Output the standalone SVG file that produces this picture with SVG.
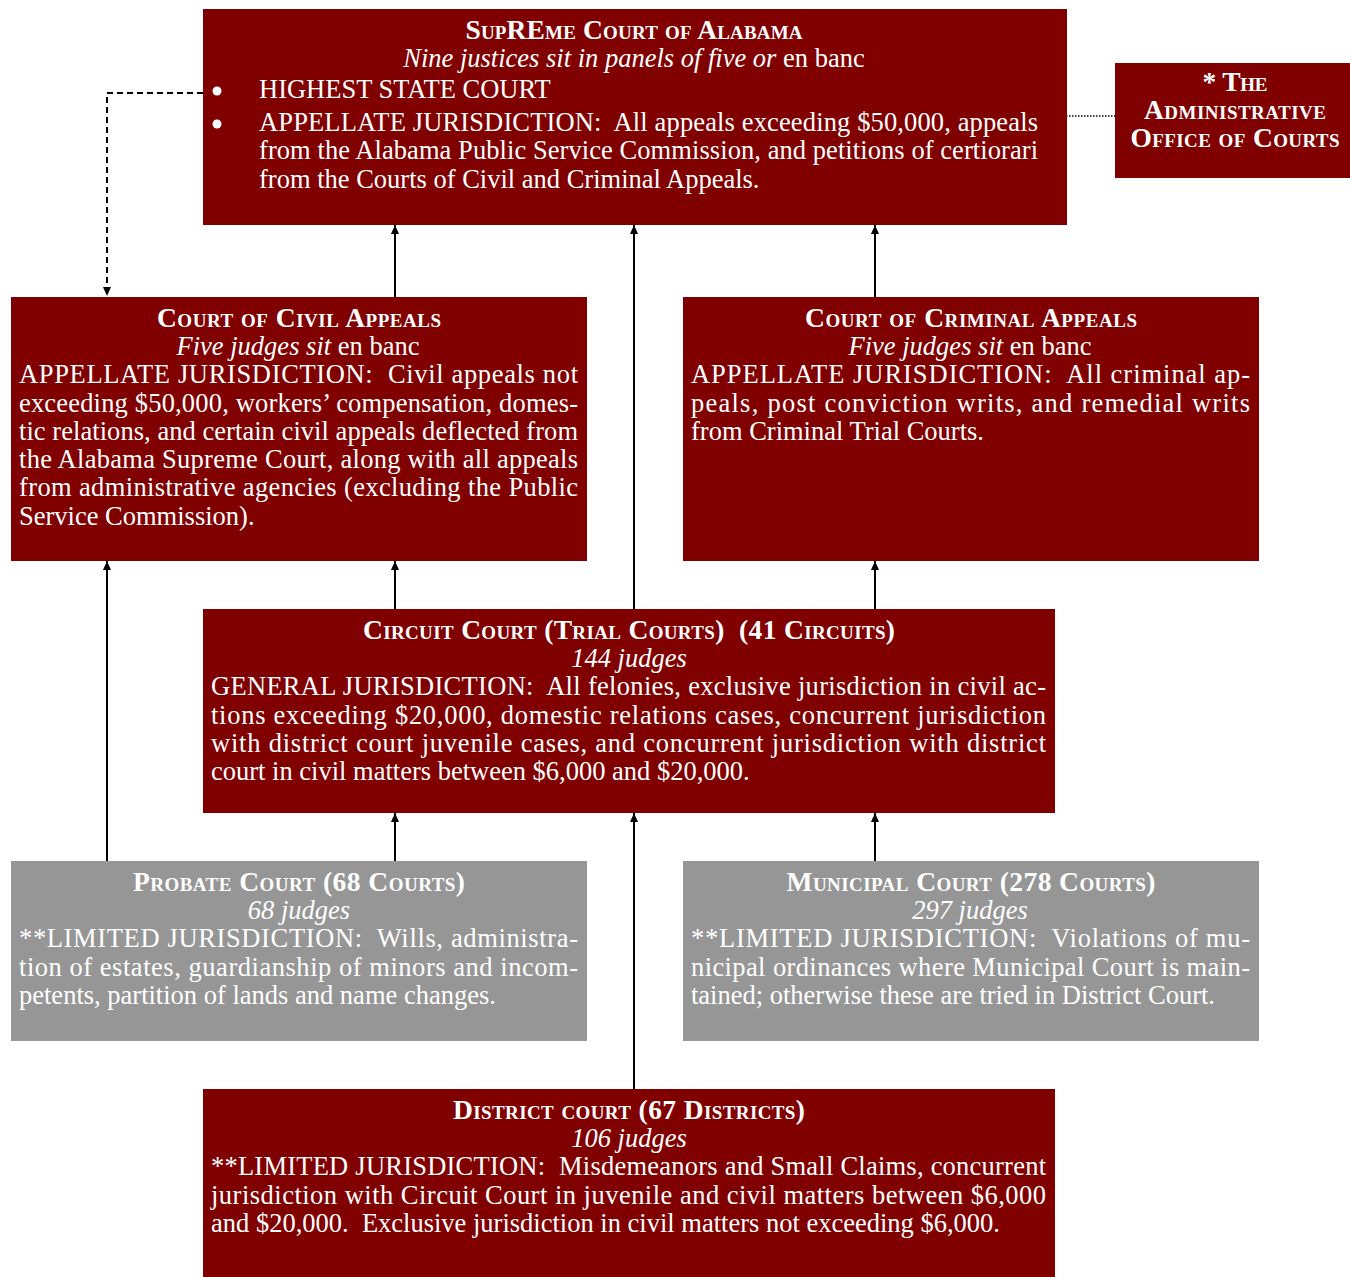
<svg xmlns="http://www.w3.org/2000/svg" width="1350" height="1277" viewBox="0 0 1350 1277">
<defs>
<style>
.red{fill:#800000}
.gray{fill:#969696}
text{font-family:"Liberation Serif","Times New Roman",serif;fill:#ffffff;font-size:26.5px;white-space:pre}
.t{font-weight:bold;font-variant:small-caps;text-anchor:middle;font-size:27.5px}
.s{font-style:italic;text-anchor:middle}
.u{font-style:normal}
.ln{stroke:#000;stroke-width:2;fill:none}
.dash{stroke:#000;stroke-width:2;fill:none;stroke-dasharray:6,4}
.dot{stroke:#000;stroke-width:1.5;fill:none;stroke-dasharray:1.5,1.5}
</style>
<marker id="ah" markerUnits="userSpaceOnUse" markerWidth="10" markerHeight="10" refX="9" refY="4" orient="auto">
<path d="M0,0 L9,4 L0,8 z" fill="#000"/>
</marker>
</defs>
<rect width="1350" height="1277" fill="#fff"/>

<g id="connectors">
<line class="ln" x1="395" y1="297" x2="395" y2="225" marker-end="url(#ah)"/>
<line class="ln" x1="634" y1="609" x2="634" y2="225" marker-end="url(#ah)"/>
<line class="ln" x1="875" y1="297" x2="875" y2="225" marker-end="url(#ah)"/>
<line class="ln" x1="395" y1="609" x2="395" y2="561" marker-end="url(#ah)"/>
<line class="ln" x1="875" y1="609" x2="875" y2="561" marker-end="url(#ah)"/>
<line class="ln" x1="107" y1="861" x2="107" y2="561" marker-end="url(#ah)"/>
<line class="ln" x1="395" y1="861" x2="395" y2="813" marker-end="url(#ah)"/>
<line class="ln" x1="634" y1="1089" x2="634" y2="813" marker-end="url(#ah)"/>
<line class="ln" x1="875" y1="861" x2="875" y2="813" marker-end="url(#ah)"/>
<path class="dash" d="M203,93 H107 V296" marker-end="url(#ah)"/>
<line class="dot" x1="1066" y1="116" x2="1115" y2="116"/>
</g>

<g id="supreme">
<rect class="red" x="203" y="9" width="864" height="216"/>
<text class="t" x="634" y="39" textLength="337" lengthAdjust="spacing">SupREme Court of Alabama</text>
<text class="s" x="634" y="67">Nine justices sit in panels of five or <tspan class="u">en banc</tspan></text>
<circle cx="217" cy="91" r="4.5" fill="#fff"/>
<circle cx="217" cy="124" r="4.5" fill="#fff"/>
<text x="259" y="98">HIGHEST STATE COURT</text>
<text x="259" y="131" textLength="779" lengthAdjust="spacing">APPELLATE JURISDICTION:  All appeals exceeding $50,000, appeals</text>
<text x="259" y="159" textLength="779" lengthAdjust="spacing">from the Alabama Public Service Commission, and petitions of certiorari</text>
<text x="259" y="188">from the Courts of Civil and Criminal Appeals.</text>
</g>

<g id="admin">
<rect class="red" x="1115" y="63" width="235" height="115"/>
<text class="t" x="1235" y="91" textLength="65" lengthAdjust="spacing">* The</text>
<text class="t" x="1235" y="119" textLength="182" lengthAdjust="spacing">Administrative</text>
<text class="t" x="1235" y="147" textLength="209" lengthAdjust="spacing">Office of Courts</text>
</g>

<g id="civil">
<rect class="red" x="11" y="297" width="576" height="264"/>
<text class="t" x="299" y="327" textLength="284" lengthAdjust="spacing">Court of Civil Appeals</text>
<text class="s" x="298" y="355">Five judges sit <tspan class="u">en banc</tspan></text>
<text x="19" y="383" textLength="559" lengthAdjust="spacing">APPELLATE JURISDICTION:  Civil appeals not</text>
<text x="19" y="412" textLength="559" lengthAdjust="spacing">exceeding $50,000, workers’ compensation, domes-</text>
<text x="19" y="440" textLength="559" lengthAdjust="spacing">tic relations, and certain civil appeals deflected from</text>
<text x="19" y="468" textLength="559" lengthAdjust="spacing">the Alabama Supreme Court, along with all appeals</text>
<text x="19" y="496" textLength="559" lengthAdjust="spacing">from administrative agencies (excluding the Public</text>
<text x="19" y="525">Service Commission).</text>
</g>

<g id="criminal">
<rect class="red" x="683" y="297" width="576" height="264"/>
<text class="t" x="971" y="327" textLength="332" lengthAdjust="spacing">Court of Criminal Appeals</text>
<text class="s" x="970" y="355">Five judges sit <tspan class="u">en banc</tspan></text>
<text x="691" y="383" textLength="559" lengthAdjust="spacing">APPELLATE JURISDICTION:  All criminal ap-</text>
<text x="691" y="412" textLength="559" lengthAdjust="spacing">peals, post conviction writs, and remedial writs</text>
<text x="691" y="440">from Criminal Trial Courts.</text>
</g>

<g id="circuit">
<rect class="red" x="203" y="609" width="852" height="204"/>
<text class="t" x="629" y="639" textLength="532" lengthAdjust="spacing">Circuit Court (Trial Courts)  (41 Circuits)</text>
<text class="s" x="629" y="667">144 judges</text>
<text x="211" y="695" textLength="835" lengthAdjust="spacing">GENERAL JURISDICTION:  All felonies, exclusive jurisdiction in civil ac-</text>
<text x="211" y="724" textLength="835" lengthAdjust="spacing">tions exceeding $20,000, domestic relations cases, concurrent jurisdiction</text>
<text x="211" y="752" textLength="835" lengthAdjust="spacing">with district court juvenile cases, and concurrent jurisdiction with district</text>
<text x="211" y="780">court in civil matters between $6,000 and $20,000.</text>
</g>

<g id="probate">
<rect class="gray" x="11" y="861" width="576" height="180"/>
<text class="t" x="299" y="891" textLength="332" lengthAdjust="spacing">Probate Court (68 Courts)</text>
<text class="s" x="299" y="919">68 judges</text>
<text x="19" y="947" textLength="559" lengthAdjust="spacing">**LIMITED JURISDICTION:  Wills, administra-</text>
<text x="19" y="976" textLength="559" lengthAdjust="spacing">tion of estates, guardianship of minors and incom-</text>
<text x="19" y="1004">petents, partition of lands and name changes.</text>
</g>

<g id="municipal">
<rect class="gray" x="683" y="861" width="576" height="180"/>
<text class="t" x="971" y="891" textLength="369" lengthAdjust="spacing">Municipal Court (278 Courts)</text>
<text class="s" x="970" y="919">297 judges</text>
<text x="691" y="947" textLength="559" lengthAdjust="spacing">**LIMITED JURISDICTION:  Violations of mu-</text>
<text x="691" y="976" textLength="559" lengthAdjust="spacing">nicipal ordinances where Municipal Court is main-</text>
<text x="691" y="1004">tained; otherwise these are tried in District Court.</text>
</g>

<g id="district">
<rect class="red" x="203" y="1089" width="852" height="188"/>
<text class="t" x="629" y="1119" textLength="352" lengthAdjust="spacing">District court (67 Districts)</text>
<text class="s" x="629" y="1147">106 judges</text>
<text x="211" y="1175" textLength="835" lengthAdjust="spacing">**LIMITED JURISDICTION:  Misdemeanors and Small Claims, concurrent</text>
<text x="211" y="1204" textLength="835" lengthAdjust="spacing">jurisdiction with Circuit Court in juvenile and civil matters between $6,000</text>
<text x="211" y="1232">and $20,000.  Exclusive jurisdiction in civil matters not exceeding $6,000.</text>
</g>
</svg>
